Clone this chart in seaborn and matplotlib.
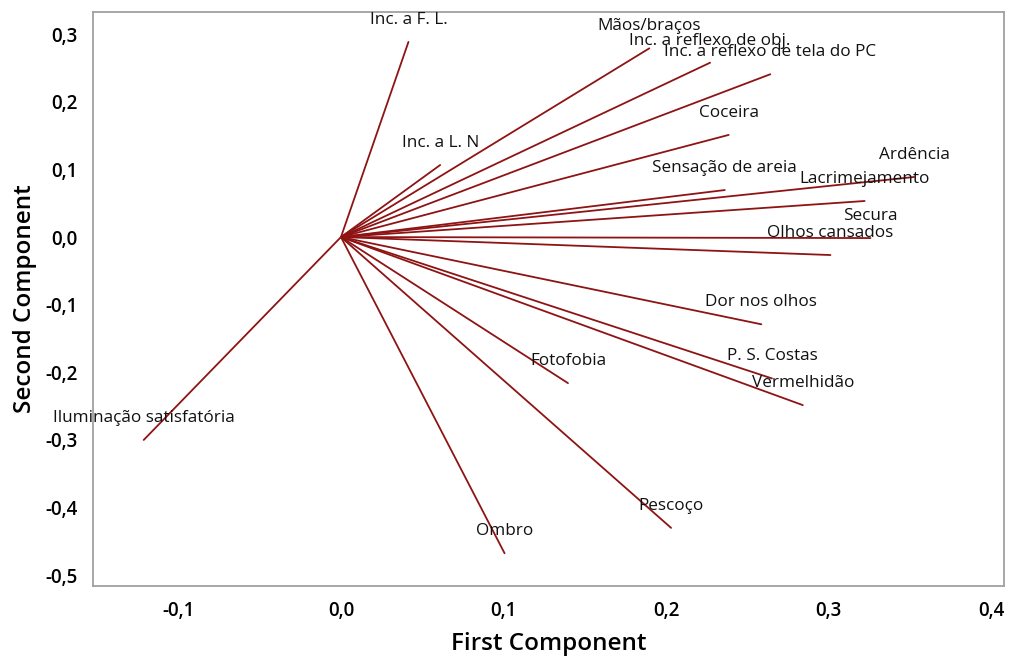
import matplotlib
matplotlib.use('Agg')
import matplotlib.pyplot as plt
import matplotlib.ticker as mticker
import pandas as pd
import seaborn as sns

# ── Loadings (first / second component) ─────────────────────────────────────
variables = [
    'Inc. a F. L.', 'Inc. a L. N', 'Mãos/braços', 'Inc. a reflexo de obj.',
    'Inc. a reflexo de tela do PC', 'Coceira', 'Sensação de areia', 'Ardência',
    'Lacrimejamento', 'Secura', 'Olhos cansados', 'Dor nos olhos',
    'P. S. Costas', 'Vermelhidão', 'Fotofobia', 'Pescoço', 'Ombro',
    'Iluminação satisfatória',
]
first_comp = [0.0415, 0.061, 0.1896, 0.227, 0.264, 0.2384, 0.236, 0.3524,
              0.322, 0.3256, 0.301, 0.2585, 0.265, 0.284, 0.1396, 0.203,
              0.1006, -0.1213]
second_comp = [0.2885, 0.1065, 0.279, 0.2578, 0.2407, 0.151, 0.0695, 0.0888,
               0.0533, -0.0015, -0.0266, -0.129, -0.209, -0.2485, -0.216,
               -0.430, -0.4675, -0.300]

xticks = [-0.1, 0.0, 0.1, 0.2, 0.3, 0.4]
yticks = [0.3, 0.2, 0.1, 0.0, -0.1, -0.2, -0.3, -0.4, -0.5]

LINE_COLOR = '#8e1414'

sns.set_style('white')
plt.rcParams['font.family'] = ['Open Sans', 'DejaVu Sans']

# each loading is a segment from the origin to its endpoint
rows = []
for name, x, y in zip(variables, first_comp, second_comp):
    rows.append({'var': name, 'x': 0.0, 'y': 0.0, 'step': 0})
    rows.append({'var': name, 'x': x, 'y': y, 'step': 1})
seg = pd.DataFrame(rows)

fig = plt.figure(figsize=(10.15, 6.57), dpi=100)
ax = fig.add_axes([0.0916, 0.108, 0.898, 0.874])

sns.lineplot(data=seg, x='x', y='y', units='var', estimator=None, sort=False,
             color=LINE_COLOR, linewidth=1.3, ax=ax)

for name, x, y in zip(variables, first_comp, second_comp):
    ax.annotate(name, (x, y), xytext=(0, 22), textcoords='offset pixels',
                ha='center', va='center', fontsize=12.3, color='#111111')

ax.set_xlim(-0.1525, 0.408)
ax.set_ylim(-0.516, 0.333)
ax.set_xticks(xticks)
ax.set_yticks(yticks)
fmt = mticker.FuncFormatter(lambda v, p: f'{v:.1f}'.replace('.', ','))
ax.xaxis.set_major_formatter(fmt)
ax.yaxis.set_major_formatter(fmt)
ax.tick_params(axis='both', which='major', direction='out', length=5,
               width=1, color='#999999', labelsize=13.5, labelcolor='black',
               pad=6)
for lab in ax.get_xticklabels() + ax.get_yticklabels():
    lab.set_fontweight('semibold')

for sp in ax.spines.values():
    sp.set_color('#a0a0a0')
    sp.set_linewidth(1.3)

ax.set_xlabel('First Component', fontsize=17.5, fontweight='semibold',
              color='black', labelpad=8)
ax.set_ylabel('Second Component', fontsize=17.5, fontweight='semibold',
              color='black', labelpad=6)

plt.savefig('out.png', dpi=100)
plt.close(fig)
